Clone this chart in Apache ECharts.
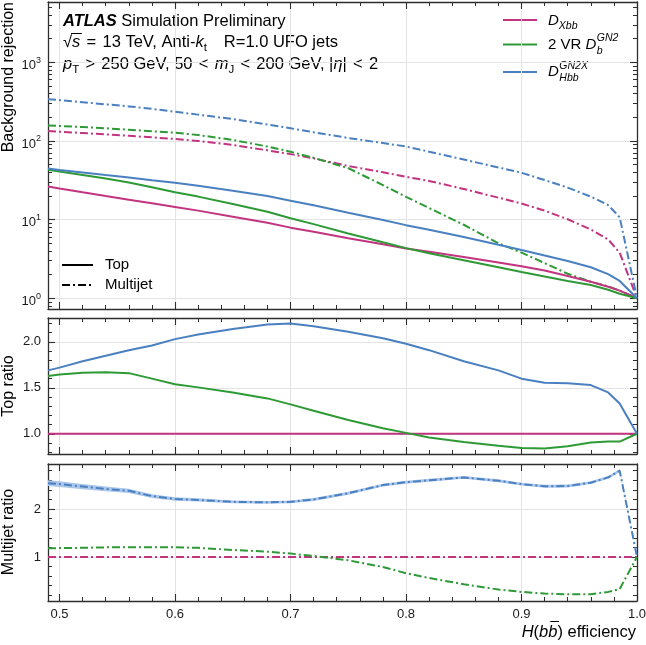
<!DOCTYPE html>
<html><head><meta charset="utf-8">
<script src="https://cdn.jsdelivr.net/npm/echarts@6/dist/echarts.min.js"></script>
<style>html,body{margin:0;padding:0;background:#fff}#c{width:646px;height:645px}</style>
</head><body><div id="c"></div>
<script>
// ---------------- data ----------------
const eff = [0.49,0.5,0.52,0.54,0.56,0.58,0.6,0.62,0.65,0.68,0.7,0.72,0.75,0.78,0.8,0.82,0.85,0.88,0.9,0.92,0.94,0.96,0.975,0.985,1.0];
// background rejection, top jets
const xbbTop = [26.4,24.9,22.2,19.9,17.9,16.1,14.5,13.0,10.9,9.1,7.9,7.0,5.8,4.85,4.3,3.9,3.35,2.85,2.55,2.25,1.92,1.62,1.4,1.25,1.0];
const gn2Top = [43.0,41.0,37.0,33.2,29.7,25.8,22.3,19.6,15.8,12.6,10.4,8.75,6.67,5.14,4.34,3.74,3.05,2.48,2.15,1.89,1.66,1.47,1.28,1.14,1.0];
const hbbTop = [44.6,42.8,39.7,36.8,34.2,31.6,29.4,27.0,23.3,19.9,17.4,15.2,12.2,9.9,8.5,7.45,6.0,4.8,4.1,3.5,2.98,2.48,2.03,1.66,1.0];
// background rejection, multijet
const xbbMj = [134,131,126,121,116,111,106,100,89,76,68,60,48,40,35,31,24.5,19,16,13,10.1,7.5,5.6,3.8,1.0];
const gn2Mj = [157,155,150,145,139,133,127,119,103,85,73,61,45,27.5,19.5,14,8.6,5.0,3.8,2.8,2.05,1.62,1.42,1.25,1.0];
const hbbMj = [340,330,311,292,275,256,235,216,190,162,145,129,109,94,85,73,58,46,39.4,31.8,25.5,19.6,15.3,10.7,1.0];
// ratios to D_Xbb
const refEff = [0.49, 1.0];
const xbbRatio = [1.0, 1.0];
const hbbTopRatio = [1.69,1.72,1.79,1.85,1.91,1.96,2.03,2.08,2.14,2.19,2.20,2.17,2.11,2.04,1.98,1.91,1.79,1.69,1.60,1.555,1.55,1.53,1.45,1.33,1.0];
const gn2TopRatio = [1.63,1.645,1.665,1.67,1.66,1.60,1.54,1.505,1.45,1.385,1.32,1.25,1.15,1.06,1.01,0.96,0.91,0.87,0.845,0.84,0.865,0.905,0.915,0.915,1.0];
const hbbMjRatio = [2.54,2.52,2.47,2.42,2.38,2.27,2.21,2.19,2.15,2.14,2.15,2.20,2.33,2.50,2.56,2.60,2.66,2.59,2.52,2.475,2.48,2.55,2.66,2.80,1.0];
const hbbMjRatioErr = [0.06,0.06,0.055,0.05,0.045,0.04,0.035,0.035,0.03,0.03,0.03,0.03,0.03,0.03,0.03,0.03,0.03,0.03,0.03,0.03,0.03,0.03,0.03,0.03,0.0];
const gn2MjRatio = [1.18,1.185,1.19,1.20,1.20,1.20,1.20,1.19,1.145,1.11,1.07,1.02,0.93,0.79,0.66,0.56,0.43,0.32,0.27,0.235,0.22,0.22,0.27,0.33,1.0];
// ticks
const xMajor = [0.5,0.6,0.7,0.8,0.9,1.0];
const logMajor = [1,10,100,1000];
const midMajor = [1.0,1.5,2.0];
const botMajor = [1,2];

// ---------------- style ----------------
const FONT = '"Liberation Sans", Arial, Helvetica, sans-serif';
const FRAME = '#2e2e2e';
const GRIDC = '#e3e3e3';
const MAG = '#c2347f';
const GRN = '#2e9a36';
const BLU = '#4a80c0';
const DASHDOT = [8, 3, 2, 3];

function range(a, b, s) { const r = []; for (let v = a; v <= b + 1e-9; v += s) r.push(Math.round(v * 1000) / 1000); return r; }
const xMinor = range(0.5, 1.0, 0.02);
const logMinor = [0.8,0.9].concat([2,3,4,5,6,7,8,9], [20,30,40,50,60,70,80,90], [200,300,400,500,600,700,800,900], [2000,3000,4000,5000]);
const midMinor = range(0.8, 2.2, 0.1);
const botMinor = range(0.2, 2.8, 0.2);

const lineFrame = {show: true, onZero: false, lineStyle: {color: FRAME, width: 1.3}};
const labelBase = {fontSize: 13, color: '#1a1a1a', fontFamily: FONT};

function makeX(gi, withLabels) {
  const c = {type: 'value', gridIndex: gi, min: 0.49, max: 1.0, splitLine: {show: false}, axisLabel: {show: false}};
  const maj = {show: true, inside: true, length: 7, customValues: xMajor, lineStyle: {color: FRAME, width: 1.1}};
  const min = {show: true, inside: true, length: 4, customValues: xMinor, lineStyle: {color: FRAME, width: 1}};
  return [
    Object.assign({}, c, {position: 'bottom', axisLine: lineFrame, axisTick: maj,
      splitLine: {show: true, lineStyle: {color: GRIDC, width: 1}},
      axisLabel: Object.assign({show: withLabels, customValues: xMajor, margin: 7, formatter: v => v.toFixed(1)}, labelBase)}),
    Object.assign({}, c, {position: 'bottom', axisLine: {show: false}, axisTick: min}),
    Object.assign({}, c, {position: 'top', axisLine: lineFrame, axisTick: maj}),
    Object.assign({}, c, {position: 'top', axisLine: {show: false}, axisTick: min})
  ];
}
function makeY(gi, o) {
  const c = {type: o.type, gridIndex: gi, min: o.min, max: o.max, splitLine: {show: false}, axisLabel: {show: false}};
  if (o.type === 'log') c.logBase = 10;
  const maj = {show: true, inside: true, length: 7, customValues: o.major, lineStyle: {color: FRAME, width: 1.1}};
  const min = {show: true, inside: true, length: 4, customValues: o.minor, lineStyle: {color: FRAME, width: 1}};
  return [
    Object.assign({}, c, {position: 'left', axisLine: lineFrame, axisTick: maj,
      splitLine: {show: true, lineStyle: {color: GRIDC, width: 1}},
      axisLabel: Object.assign({show: true, customValues: o.major, margin: 7, formatter: o.fmt, rich: o.rich}, labelBase)}),
    Object.assign({}, c, {position: 'left', axisLine: {show: false}, axisTick: min}),
    Object.assign({}, c, {position: 'right', axisLine: lineFrame, axisTick: maj}),
    Object.assign({}, c, {position: 'right', axisLine: {show: false}, axisTick: min})
  ];
}

const xAxis = [].concat(makeX(0, false), makeX(1, false), makeX(2, true));
const yAxis = [].concat(
  makeY(0, {type: 'log', min: 0.73, max: 5840, major: logMajor, minor: logMinor,
    fmt: v => '{b|10}{s|' + Math.round(Math.log10(v)) + '}',
    rich: {b: {fontSize: 13, fontFamily: FONT, color: '#1a1a1a', lineHeight: 13, padding: [6, 0, 0, 0]},
           s: {fontSize: 9, fontFamily: FONT, color: '#1a1a1a', lineHeight: 9, verticalAlign: 'top'}}}),
  makeY(1, {type: 'value', min: 0.78, max: 2.26, major: midMajor, minor: midMinor, fmt: v => v.toFixed(1)}),
  makeY(2, {type: 'value', min: 0.08, max: 2.94, major: botMajor, minor: botMinor, fmt: v => String(Math.round(v))})
);

function line(xs, ys, gi, color, dashed, z) {
  return {type: 'line', xAxisIndex: gi * 4, yAxisIndex: gi * 4,
    data: xs.map((x, i) => [x, ys[i]]), symbol: 'none', smooth: false, silent: true,
    lineStyle: {color: color, width: 2, type: dashed ? DASHDOT : 'solid', cap: 'butt'}, z: z || 3};
}

// uncertainty band of the D_Hbb multijet ratio, drawn through the axis scales
const bandSeries = {
  type: 'custom', coordinateSystem: 'cartesian2d', xAxisIndex: 8, yAxisIndex: 8, silent: true, z: 2, clip: true,
  data: eff.map((x, i) => [x, hbbMjRatio[i] - hbbMjRatioErr[i], hbbMjRatio[i] + hbbMjRatioErr[i]]),
  encode: {x: 0, y: [1, 2]},
  renderItem: function (params, api) {
    if (params.dataIndex !== 0) return null;
    const up = [], lo = [];
    for (let i = 0; i < eff.length; i++) {
      up.push(api.coord([eff[i], hbbMjRatio[i] + hbbMjRatioErr[i]]));
      lo.push(api.coord([eff[i], hbbMjRatio[i] - hbbMjRatioErr[i]]));
    }
    return {type: 'polygon', shape: {points: up.concat(lo.reverse())}, style: {fill: '#aac6ea'}};
  }
};

const series = [
  line(eff, xbbMj, 0, MAG, true), line(eff, gn2Mj, 0, GRN, true), line(eff, hbbMj, 0, BLU, true),
  line(eff, xbbTop, 0, MAG, false), line(eff, gn2Top, 0, GRN, false), line(eff, hbbTop, 0, BLU, false),
  line(refEff, xbbRatio, 1, MAG, false), line(eff, gn2TopRatio, 1, GRN, false), line(eff, hbbTopRatio, 1, BLU, false),
  bandSeries,
  line(refEff, xbbRatio, 2, MAG, true), line(eff, gn2MjRatio, 2, GRN, true), line(eff, hbbMjRatio, 2, BLU, true)
];

// ---------------- text / legend ----------------
const ctx = document.createElement('canvas').getContext('2d');
function tw(str, font) { ctx.font = font; return ctx.measureText(str).width; }
const F = 16.5;
const base = {fontSize: F, fontFamily: FONT, color: '#000', lineHeight: 24};
const rich = {
  n: base,
  i: Object.assign({}, base, {fontStyle: 'italic'}),
  b: Object.assign({}, base, {fontStyle: 'italic', fontWeight: 'bold'}),
  r: Object.assign({}, base, {width: 13, align: 'center'}),
  g: Object.assign({}, base, {width: 17}),
  sub: {fontSize: 11.5, fontFamily: FONT, color: '#000', lineHeight: 14, verticalAlign: 'bottom'}
};
const LF = 15;
const lrich = {
  n: {fontSize: LF, fontFamily: FONT, color: '#000', lineHeight: 22},
  i: {fontSize: LF, fontFamily: FONT, color: '#000', lineHeight: 22, fontStyle: 'italic'},
  isub: {fontSize: 10.5, fontFamily: FONT, color: '#000', lineHeight: 13, fontStyle: 'italic', verticalAlign: 'bottom'}
};
function txt(x, y, text, r) {
  return {type: 'text', x: x, y: y, silent: true,
    style: {text: text, rich: r, font: F + 'px ' + FONT, fill: '#000', align: 'left', verticalAlign: 'middle'}};
}
function plain(x, y, text, font, align, rot) {
  return {type: 'text', x: x, y: y, rotation: rot || 0, silent: true,
    style: {text: text, font: font, fill: '#000', align: align || 'left', verticalAlign: 'middle'}};
}
function seg(x1, y1, x2, y2, color, dashed, w) {
  return {type: 'line', silent: true, shape: {x1, y1, x2, y2},
    style: {stroke: color, lineWidth: w || 2, lineDash: dashed ? DASHDOT : null}};
}
const sqrtW = tw('√', F + 'px ' + FONT);
const sW = tw('s', 'italic ' + F + 'px ' + FONT);
const xl = '{i|H}{n|(}{i|b}{i|b}{n|) efficiency}';
const xlW = tw('H', 'italic ' + F + 'px ' + FONT) + tw('(', F + 'px ' + FONT) + 2 * tw('b', 'italic ' + F + 'px ' + FONT) + tw(') efficiency', F + 'px ' + FONT);
const xlStart = 636 - xlW;
const bbarX = xlStart + tw('H', 'italic ' + F + 'px ' + FONT) + tw('(', F + 'px ' + FONT) + tw('b', 'italic ' + F + 'px ' + FONT);
const bW = tw('b', 'italic ' + F + 'px ' + FONT);
const vrW = tw('2 VR ', LF + 'px ' + FONT);
const dW = tw('D', 'italic ' + LF + 'px ' + FONT);
const smallI = 'italic 10.5px ' + FONT;

const graphic = [
  txt(63, 21, '{b|ATLAS}{n| Simulation Preliminary}', rich),
  txt(63, 42, '{n|√}{i|s}{n| }{r|=}{n| 13 TeV, Anti-}{i|k}{sub|t}{g| }{n|R=1.0 UFO jets}', rich),
  seg(63 + sqrtW - 1, 33.5, 63 + sqrtW + sW + 1.5, 33.5, '#000', false, 1),
  txt(63, 64, '{i|p}{sub|T}{n| }{r|>}{n| 250 GeV, 50 }{r|<}{n| }{i|m}{sub|J}{n| }{r|<}{n| 200 GeV, |}{i|η}{n|| }{r|<}{n| 2}', rich),
  // legend (taggers)
  seg(503, 20, 537, 20, MAG), seg(503, 44.5, 537, 44.5, GRN), seg(503, 72, 537, 72, BLU),
  txt(548, 21, '{i|D}{isub|Xbb}', lrich),
  txt(548, 45, '{n|2 VR }{i|D}', lrich),
  plain(548 + vrW + dW + 0.5, 38.5, 'GN2', smallI),
  plain(548 + vrW + dW + 0.5, 51.5, 'b', smallI),
  txt(548, 72, '{i|D}', lrich),
  plain(548 + dW + 0.5, 66, 'GN2X', smallI),
  plain(548 + dW + 0.5, 78.5, 'Hbb', smallI),
  // legend (samples)
  seg(62, 265, 93, 265, '#000'), seg(62, 285, 93, 285, '#000', true),
  plain(105, 265, 'Top', LF + 'px ' + FONT),
  plain(105, 285, 'Multijet', LF + 'px ' + FONT),
  // axis titles
  plain(9, 2, 'Background rejection', '16px ' + FONT, 'right', Math.PI / 2),
  plain(9, 386, 'Top ratio', '16px ' + FONT, 'center', Math.PI / 2),
  plain(9, 532, 'Multijet ratio', '16px ' + FONT, 'center', Math.PI / 2),
  txt(xlStart, 632, xl, rich),
  seg(bbarX + 2, 621.5, bbarX + bW + 1.5, 621.5, '#000', false, 1)
];

const chart = echarts.init(document.getElementById('c'), null, {renderer: 'canvas'});
chart.setOption({
  animation: false,
  backgroundColor: '#fff',
  grid: [
    {left: 48, right: 9, top: 2, height: 307, containLabel: false, outerBoundsMode: 'none'},
    {left: 48, right: 9, top: 318, height: 136, containLabel: false, outerBoundsMode: 'none'},
    {left: 48, right: 9, top: 464, height: 137, containLabel: false, outerBoundsMode: 'none'}
  ],
  xAxis: xAxis,
  yAxis: yAxis,
  series: series,
  graphic: graphic
});
</script></body></html>
